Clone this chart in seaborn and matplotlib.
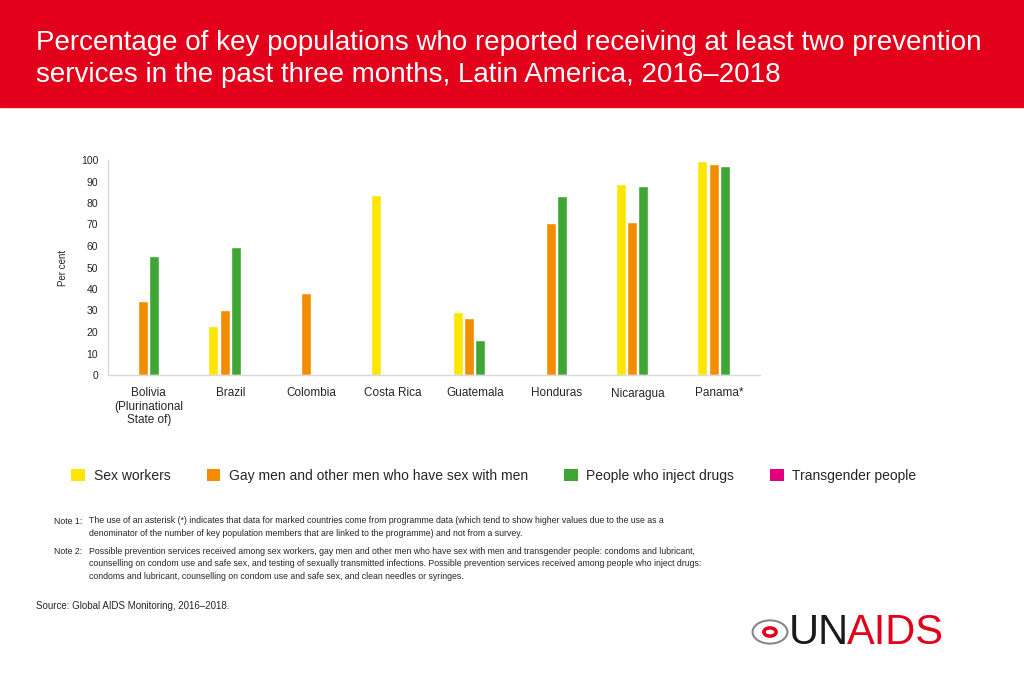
import matplotlib
matplotlib.use("Agg")
import matplotlib.pyplot as plt
from matplotlib.patches import Patch, Rectangle, Circle
import pandas as pd
import seaborn as sns

# data
countries = ["Bolivia\n(Plurinational\nState of)", "Brazil", "Colombia", "Costa Rica",
             "Guatemala", "Honduras", "Nicaragua", "Panama*"]
sex_workers = [None, 22.8, None, 83.7, 29.3, None, 88.8, 99.5]
msm = [34.4, 30.2, 38.1, None, 26.5, 70.7, 71.2, 98.1]
pwid = [55.3, 59.5, None, None, 16.3, 83.3, 87.9, 97.2]
transgender = [None] * 8

groups = ["Sex workers", "Gay men and other men who have sex with men",
          "People who inject drugs", "Transgender people"]
colors = ["#FFE500", "#F28C00", "#3FA535", "#E4007C"]

rows = []
for grp, vals in zip(groups, [sex_workers, msm, pwid, transgender]):
    for c, v in zip(countries, vals):
        rows.append({"country": c, "group": grp, "value": v})
df = pd.DataFrame(rows)

sns.set_style("white")
plt.rcParams["font.family"] = ["Liberation Sans", "DejaVu Sans"]

fig = plt.figure(figsize=(10.24, 6.83), dpi=100)
fig.patch.set_facecolor("white")

# red title band
fig.add_artist(Rectangle((0, 1 - 107 / 683), 1, 107 / 683, transform=fig.transFigure,
                         color="#E3001B", zorder=0))
fig.text(36 / 1024, 1 - 59 / 683,
         "Percentage of key populations who reported receiving at least two prevention\n"
         "services in the past three months, Latin America, 2016\u20132018",
         color="white", fontsize=20, va="center", ha="left", linespacing=1.3)

ax = fig.add_axes([108 / 1024, 1 - 375 / 683, 652 / 1024, 215 / 683])
sns.barplot(data=df, x="country", y="value", hue="group", hue_order=groups,
            order=countries, palette=colors, width=0.56, gap=0.12,
            saturation=1, ax=ax, legend=False, errorbar=None)

ax.set_ylim(0, 100)
ax.set_xlim(-0.5, 7.5)
ax.set_yticks(range(0, 101, 10))
ax.tick_params(axis="y", labelsize=7.5, length=0, pad=7)
ax.tick_params(axis="x", labelsize=8.5, length=0, pad=9)
for lab in ax.get_xticklabels():
    lab.set_linespacing(1.15)
ax.set_xlabel("")
ax.set_ylabel("Per cent", fontsize=7, labelpad=9)
for side in ["top", "right"]:
    ax.spines[side].set_visible(False)
for side in ["left", "bottom"]:
    ax.spines[side].set_color("#d9d9d9")
    ax.spines[side].set_linewidth(1)

# legend below the chart
handles = [Patch(facecolor=c, edgecolor="none") for c in colors]
fig.legend(handles, groups, loc="center", bbox_to_anchor=(494 / 1024, 1 - 476 / 683),
           ncol=4, frameon=False, fontsize=10, handlelength=1.0, handleheight=1.0,
           handletextpad=0.6, columnspacing=2.6)

# notes
note_fs = 6.3
fig.text(54 / 1024, 1 - 521 / 683, "Note 1:", fontsize=note_fs, va="center")
fig.text(89 / 1024, 1 - 516 / 683,
         "The use of an asterisk (*) indicates that data for marked countries come from programme data "
         "(which tend to show higher values due to the use as a\n"
         "denominator of the number of key population members that are linked to the programme) "
         "and not from a survey.",
         fontsize=note_fs, va="top", linespacing=1.5)
fig.text(54 / 1024, 1 - 552 / 683, "Note 2:", fontsize=note_fs, va="center")
fig.text(89 / 1024, 1 - 547 / 683,
         "Possible prevention services received among sex workers, gay men and other men who have sex "
         "with men and transgender people: condoms and lubricant,\n"
         "counselling on condom use and safe sex, and testing of sexually transmitted infections. "
         "Possible prevention services received among people who inject drugs:\n"
         "condoms and lubricant, counselling on condom use and safe sex, and clean needles or syringes.",
         fontsize=note_fs, va="top", linespacing=1.5)
fig.text(36 / 1024, 1 - 606 / 683, "Source: Global AIDS Monitoring, 2016\u20132018.",
         fontsize=7, va="center")

# UNAIDS logo (text approximation)
fig.add_artist(Circle((770 / 1024, 1 - 632 / 683), 0.017, transform=fig.transFigure,
                      facecolor="white", edgecolor="#888888", linewidth=1.5))
fig.add_artist(Circle((770 / 1024, 1 - 632 / 683), 0.006, transform=fig.transFigure,
                      facecolor="none", edgecolor="#E3001B", linewidth=2.5))
un = fig.text(789 / 1024, 1 - 633 / 683, "UN", fontsize=30, color="#1a1a1a", va="center")
fig.canvas.draw()
bb = un.get_window_extent()
fig.text(bb.x1 / 1024 - 0.002, 1 - 633 / 683, "AIDS", fontsize=30, color="#E3001B", va="center")

fig.savefig("out.png", dpi=100, facecolor="white")
